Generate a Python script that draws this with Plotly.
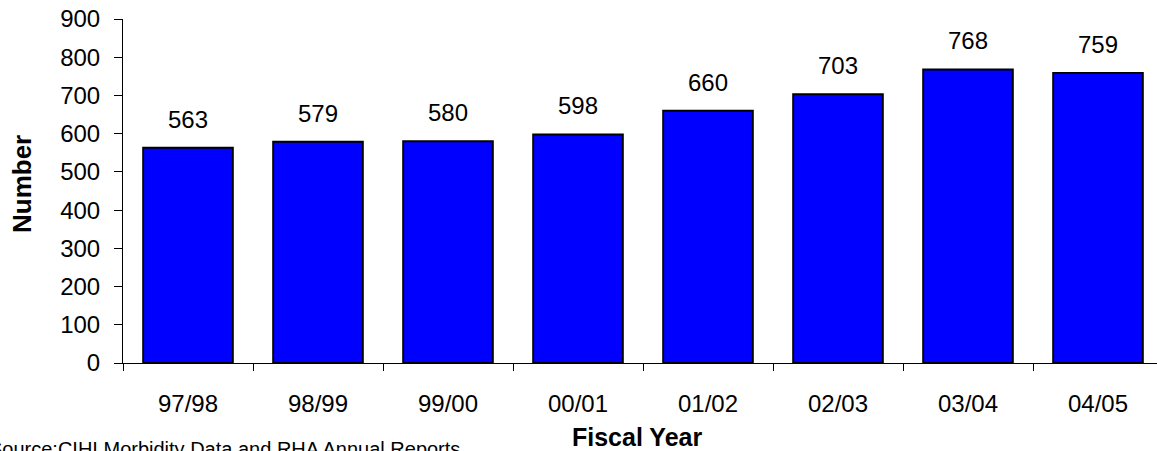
import plotly.graph_objects as go

categories = ["97/98", "98/99", "99/00", "00/01", "01/02", "02/03", "03/04", "04/05"]
values = [563, 579, 580, 598, 660, 703, 768, 759]
y_ticks = [0, 100, 200, 300, 400, 500, 600, 700, 800, 900]
x_title = "Fiscal Year"
y_title = "Number"
source_text = "Source:CIHI Morbidity Data and RHA Annual Reports"

W, H = 1157, 451
L, R, T, B = 123, 0, 19, 88
plot_w = W - L - R
plot_h = H - T - B
cat_px = 130.0

FONT = "Liberation Sans, Arial, sans-serif"


def px_x(p):
    return (p - L) / plot_w


def px_y(p):
    return (T + plot_h - p) / plot_h


fig = go.Figure()
fig.add_trace(go.Bar(
    x=categories, y=values,
    marker=dict(color="#0000FF", line=dict(color="#000000", width=1.9)),
    hoverinfo="skip",
))

annotations = []
for c, v in zip(categories, values):
    annotations.append(dict(
        x=c, y=v, xref="x", yref="y", text=str(v), showarrow=False,
        yanchor="bottom", yshift=13, font=dict(family=FONT, size=24, color="#000000"),
    ))

annotations.append(dict(
    x=px_x(637), y=px_y(421), xref="paper", yref="paper",
    text="<b>" + x_title + "</b>", showarrow=False, xanchor="center", yanchor="top",
    font=dict(family=FONT, size=25, color="#000000"),
))
annotations.append(dict(
    x=px_x(22), y=px_y(184), xref="paper", yref="paper", textangle=-90,
    text="<b>" + y_title + "</b>", showarrow=False, xanchor="center", yanchor="middle",
    font=dict(family=FONT, size=26, color="#000000"),
))
annotations.append(dict(
    x=px_x(-13), y=px_y(436), xref="paper", yref="paper",
    text=source_text, showarrow=False, xanchor="left", yanchor="top",
    font=dict(family=FONT, size=20, color="#000000"),
))

fig.update_layout(
    width=W, height=H,
    margin=dict(l=L, r=R, t=T, b=B, pad=0),
    paper_bgcolor="#FFFFFF", plot_bgcolor="#FFFFFF",
    bargap=0.31,
    showlegend=False,
    annotations=annotations,
    font=dict(family=FONT, color="#000000"),
    xaxis=dict(
        type="category",
        range=[-0.5, -0.5 + plot_w / cat_px],
        showline=True, linecolor="#000000", linewidth=1,
        ticks="outside", tickson="boundaries", ticklen=7, tickcolor="#000000", tickwidth=1,
        ticklabelstandoff=19,
        showgrid=False, zeroline=False,
        tickfont=dict(family=FONT, size=24, color="#000000"),
        fixedrange=True,
    ),
    yaxis=dict(
        range=[0, 900], tickvals=y_ticks,
        showline=True, linecolor="#000000", linewidth=1,
        ticks="outside", ticklen=8, tickcolor="#000000", tickwidth=1,
        ticklabelstandoff=9,
        showgrid=False, zeroline=False,
        tickfont=dict(family=FONT, size=24, color="#000000"),
        fixedrange=True,
    ),
)

fig.write_html("out.html", config={"displayModeBar": False})
